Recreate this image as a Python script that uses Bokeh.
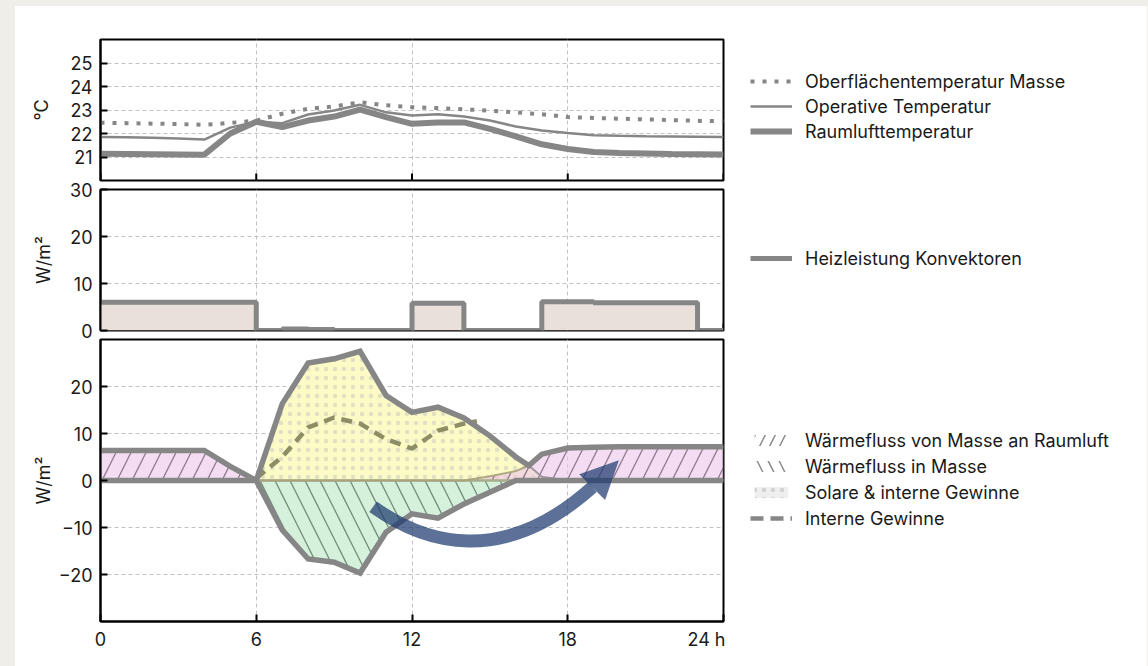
import numpy as np
from bokeh.plotting import figure
from bokeh.models import Legend, LegendItem, FixedTicker, Range1d, Spacer
from bokeh.layouts import column, row
from bokeh.embed import file_html
from bokeh.resources import INLINE

FONT = "Inter"
GRAY = "#868686"

# ---------------- data ----------------
hours = list(range(25))
x_ticks = [0, 6, 12, 18, 24]

# temperatures (°C)
t_masse = [22.46, 22.44, 22.42, 22.40, 22.37, 22.45, 22.55, 22.84, 23.05, 23.15, 23.33, 23.2, 23.12,
           23.08, 23.03, 22.97, 22.90, 22.82, 22.70, 22.66, 22.63, 22.60, 22.57, 22.54, 22.52]
t_oper = [21.85, 21.84, 21.82, 21.79, 21.74, 22.25, 22.50, 22.44, 22.81, 22.98, 23.22, 22.9, 22.77,
          22.82, 22.72, 22.55, 22.30, 22.13, 22.02, 21.93, 21.90, 21.88, 21.87, 21.86, 21.85]
t_luft = [21.14, 21.13, 21.12, 21.11, 21.10, 22.00, 22.50, 22.27, 22.55, 22.72, 23.02, 22.70, 22.41,
          22.47, 22.47, 22.20, 21.88, 21.54, 21.34, 21.21, 21.17, 21.15, 21.13, 21.12, 21.11]

# heating power (W/m²), step after
heiz = [6.0, 6.0, 6.0, 6.0, 6.0, 6.0, 0.0, 0.3, 0.2, 0.0, 0.0, 0.0, 5.8,
        5.8, 0.0, 0.0, 0.0, 6.1, 6.1, 5.9, 5.9, 5.9, 5.9, 0.0, 0.0]

# heat flows (W/m²)
flux_hours = [0, 1, 2, 3, 4, 5, 6, 7, 8, 9, 10, 11, 12, 13, 14, 15, 16, 16.5, 17, 18, 19, 20, 21, 22, 23, 24]
masse_an_luft = [6.4, 6.4, 6.4, 6.4, 6.4, 3.0, 0, 0, 0, 0, 0, 0, 0, 0, 0,
                 0.9, 2.0, 3.2, 5.6, 6.9, 7.1, 7.2, 7.2, 7.2, 7.2, 7.2]
solar_intern = [0, 0, 0, 0, 0, 0, 0, 16.3, 25.0, 25.9, 27.5, 18.1, 14.5, 15.6, 13.3,
                9.5, 5.0, 3.2, 0.8, 0, 0, 0, 0, 0, 0, 0]
in_masse = [0, 0, 0, 0, 0, 0, 0, -10.5, -16.7, -17.4, -19.7, -11.0, -7.1, -8.0, -5.0,
            -2.5, 0, 0, 0, 0, 0, 0, 0, 0, 0, 0]
intern_hours = [6, 7, 8, 9, 10, 11, 12, 13, 14, 14.5]
intern = [0.5, 5.0, 11.3, 13.4, 12.1, 8.8, 6.8, 10.6, 12.1, 12.6]

# annotation arrow (data coords)
arrow_shaft = dict(x0=[10.5], y0=[-5.6], cx0=[12.5], cy0=[-13.5], cx1=[15.5], cy1=[-18.5], x1=[18.95], y1=[-1.4])
arrow_head_x = [19.97, 18.44, 19.44]
arrow_head_y = [4.3, 1.34, -4.17]

# ---------------- helpers ----------------
LEFT = 85
FRAME_W = 623
RIGHT = 2
PLOT_W = LEFT + FRAME_W + RIGHT
LEG_W = 1132 - PLOT_W
TICK_LEN = 7
FS = "18px"


def make_fig(h_frame, top, bottom, yr, yticks, ylabel, label_standoff, show_x):
    p = figure(width=PLOT_W, height=top + h_frame + bottom, x_range=Range1d(0, 24),
               y_range=Range1d(*yr), output_backend="svg", toolbar_location=None,
               min_border_left=LEFT, min_border_right=RIGHT, min_border_top=top, min_border_bottom=bottom)
    p.outline_line_color = "black"
    p.outline_line_width = 2
    p.border_fill_color = None
    p.background_fill_color = "white"
    p.xaxis.ticker = FixedTicker(ticks=x_ticks)
    p.yaxis.ticker = FixedTicker(ticks=yticks)
    for ax in (p.xaxis[0], p.yaxis[0]):
        ax.axis_line_color = "black"
        ax.axis_line_width = 2
        ax.major_tick_line_color = "black"
        ax.major_tick_line_width = 2
        ax.major_tick_in = TICK_LEN
        ax.major_tick_out = 0
        ax.minor_tick_line_color = None
        ax.major_label_text_font = FONT
        ax.major_label_text_font_size = FS
        ax.major_label_text_color = "#1a1a1a"
    p.yaxis.major_label_standoff = 8
    p.yaxis.axis_label = ylabel
    p.yaxis.axis_label_text_font = FONT
    p.yaxis.axis_label_text_font_size = FS
    p.yaxis.axis_label_text_font_style = "normal"
    p.yaxis.axis_label_text_color = "#1a1a1a"
    p.yaxis.axis_label_standoff = label_standoff
    if show_x:
        p.xaxis.major_label_standoff = 7
        p.xaxis.major_label_overrides = {24: "24 h"}
    else:
        p.xaxis.visible = False
        # inward x ticks at the bottom edge of the panel
        span = yr[1] - yr[0]
        p.segment(x0=x_ticks, y0=[yr[0]] * len(x_ticks), x1=x_ticks,
                  y1=[yr[0] + TICK_LEN * span / h_frame] * len(x_ticks),
                  line_color="black", line_width=2)
    for g in (p.xgrid[0], p.ygrid[0]):
        g.grid_line_color = "#c2c2c2"
        g.grid_line_dash = "4 3"
        g.grid_line_width = 1
    return p


def make_legend_fig(h_frame, top, bottom):
    q = figure(width=LEG_W, height=top + h_frame + bottom, x_range=Range1d(0, 1), y_range=Range1d(0, 1),
               output_backend="svg", toolbar_location=None, x_axis_type=None, y_axis_type=None,
               min_border_left=0, min_border_right=0, min_border_top=top, min_border_bottom=bottom)
    q.outline_line_color = None
    q.border_fill_color = None
    q.background_fill_color = None
    q.grid.visible = False
    return q


def add_legend(q, items, y, spacing):
    lg = Legend(items=items, location=(25, y), orientation="vertical")
    lg.label_text_font = FONT
    lg.label_text_font_size = FS
    lg.label_text_color = "#1a1a1a"
    lg.glyph_width = 42
    lg.glyph_height = 14
    lg.label_height = 20
    lg.label_standoff = 13
    lg.spacing = spacing
    lg.padding = 0
    lg.margin = 0
    lg.border_line_color = None
    lg.background_fill_alpha = 0
    q.add_layout(lg, "center")


# ---------------- top panel: temperatures ----------------
p1 = make_fig(141, 33, 2, (20, 26), [21, 22, 23, 24, 25], "°C", 15, False)
p1.line(hours, t_masse, line_color=GRAY, line_width=4, line_dash="4 8")
p1.line(hours, t_oper, line_color=GRAY, line_width=2.5)
p1.line(hours, t_luft, line_color=GRAY, line_width=6)

q1 = make_legend_fig(141, 33, 2)
k1 = q1.line([0], [0], line_color=GRAY, line_width=4, line_dash="4 8")
k2 = q1.line([0], [0], line_color=GRAY, line_width=2.5)
k3 = q1.line([0], [0], line_color=GRAY, line_width=6)
add_legend(q1, [
    LegendItem(label="Oberflächentemperatur Masse", renderers=[k1]),
    LegendItem(label="Operative Temperatur", renderers=[k2]),
    LegendItem(label="Raumlufttemperatur", renderers=[k3]),
], 38.5, 4)

# ---------------- middle panel: heating ----------------
p2 = make_fig(141, 17, 17, (0, 30), [0, 10, 20, 30], "W/m²", 13, False)
p2.varea_step(x=hours, y1=[0] * len(hours), y2=heiz, step_mode="after", fill_color="#e9e0dc")
p2.step(hours, heiz, mode="after", line_color=GRAY, line_width=5)

q2 = make_legend_fig(141, 17, 17)
k4 = q2.line([0], [0], line_color=GRAY, line_width=5)
add_legend(q2, [LegendItem(label="Heizleistung Konvektoren", renderers=[k4])], 61.5, 4)

# ---------------- bottom panel: heat flows ----------------
p3 = make_fig(282, 2, 45, (-30, 30), [-20, -10, 0, 10, 20], "W/m²", 2, True)
p3.yaxis.major_label_overrides = {-20: "−20", -10: "−10"}

zeros = [0] * len(flux_hours)
p3.varea(x=flux_hours, y1=zeros, y2=solar_intern, fill_color="#fcfbc6",
         hatch_pattern=".", hatch_color="#e2e0c2", hatch_scale=9, hatch_weight=1.2)
p3.varea(x=flux_hours, y1=in_masse, y2=zeros, fill_color="#d5f1dc",
         hatch_pattern="\\", hatch_color="#506a58", hatch_alpha=0.75, hatch_scale=30, hatch_weight=1.3)
p3.varea(x=flux_hours, y1=zeros, y2=masse_an_luft, fill_color="#ecc6ea", fill_alpha=0.6,
         hatch_pattern="/", hatch_color="#6a5a6a", hatch_alpha=0.75, hatch_scale=30, hatch_weight=1.3)

p3.line(flux_hours, zeros, line_color="#a5ad8c", line_width=2.5)
p3.line(flux_hours, masse_an_luft, line_color="#a9a27a", line_width=2, line_alpha=0.9)
p3.line(flux_hours, solar_intern, line_color="#9a8f99", line_width=2, line_alpha=0.9)
p3.line(intern_hours, intern, line_color="#8e8e66", line_width=4.5, line_dash="11 7")

upper_env = np.maximum(np.array(masse_an_luft), np.array(solar_intern))
lower_env = np.minimum(np.array(in_masse), 0)
p3.line(flux_hours, upper_env, line_color=GRAY, line_width=5.5, line_join="miter")
p3.line(flux_hours, lower_env, line_color=GRAY, line_width=5.5, line_join="miter")

ARROW = "#1e3a70"
p3.bezier(**arrow_shaft, line_color=ARROW, line_alpha=0.72, line_width=13, line_cap="butt")
p3.patch(arrow_head_x, arrow_head_y, fill_color=ARROW, fill_alpha=0.72, line_color=None)

q3 = make_legend_fig(282, 2, 45)
k5 = q3.varea(x=[0], y1=[0], y2=[0], fill_color=None, hatch_pattern="/", hatch_color="#8a8a8a",
              hatch_scale=20, hatch_weight=1.5)
k6 = q3.varea(x=[0], y1=[0], y2=[0], fill_color=None, hatch_pattern="\\", hatch_color="#8a8a8a",
              hatch_scale=22, hatch_weight=1.5)
k7 = q3.varea(x=[0], y1=[0], y2=[0], fill_color="#efefef", hatch_pattern=".", hatch_color="#d2d2d2",
              hatch_scale=9, hatch_weight=1.2)
k8 = q3.line([0], [0], line_color=GRAY, line_width=4.5, line_dash="13 7")
add_legend(q3, [
    LegendItem(label="Wärmefluss von Masse an Raumluft", renderers=[k5]),
    LegendItem(label="Wärmefluss in Masse", renderers=[k6]),
    LegendItem(label="Solare & interne Gewinne", renderers=[k7]),
    LegendItem(label="Interne Gewinne", renderers=[k8]),
], 92.5, 5)

r1 = row(p1, q1)
r2 = row(p2, q2)
r2.margin = (-10, 0, 0, 0)
r3 = row(p3, q3)
r3.margin = (-10, 0, 0, 0)

card = column(r1, r2, r3, width=1132, height=660, styles={"background-color": "white"})
layout = row(Spacer(width=15, height=666),
             column(Spacer(width=1132, height=6), card),
             width=1148, height=666, styles={"background-color": "#efeee9"})

html = file_html(layout, INLINE, title="Wärmefluss")
open("out.html", "w").write(html)
